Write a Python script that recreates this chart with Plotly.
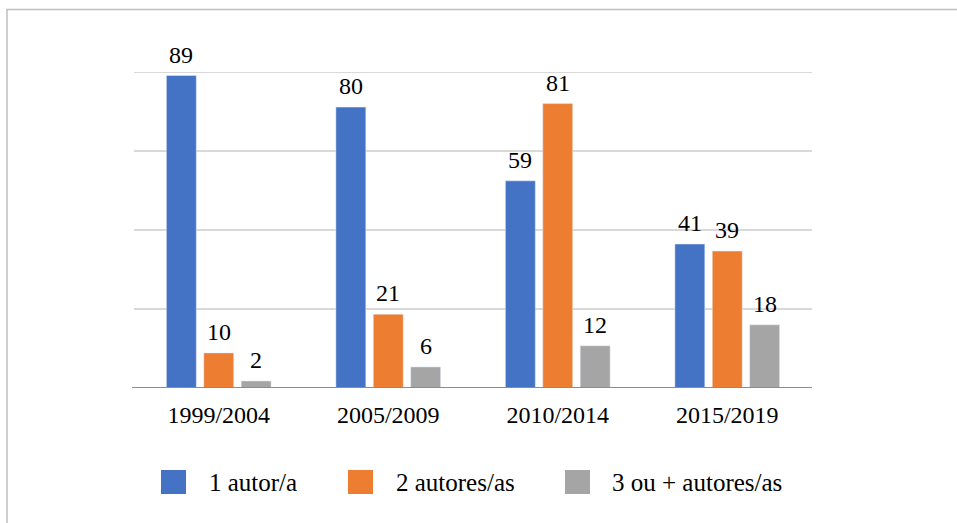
import plotly.graph_objects as go

categories = ["1999/2004", "2005/2009", "2010/2014", "2015/2019"]
series_names = ["1 autor/a", "2 autores/as", "3 ou + autores/as"]
autor1 = [89, 80, 59, 41]
autores2 = [10, 21, 81, 39]
autores3 = [2, 6, 12, 18]
colors = ["#4472C4", "#ED7D31", "#A5A5A5"]

FONT = "Liberation Serif"
W, H = 957, 523
L, R, T, B = 134, 145, 72, 135
pw, ph = W - L - R, H - T - B
BARGAP = 0.338

def px_x(x):
    return (x - L) / pw

def px_y(y):
    return (H - B - y) / ph

fig = go.Figure()
all_series = [autor1, autores2, autores3]
for name, vals, c in zip(series_names, all_series, colors):
    fig.add_trace(go.Bar(
        x=categories, y=vals, name=name, marker_color=c,
        cliponaxis=False, showlegend=False, hoverinfo="x+y+name",
    ))

annotations = []
slot = (1 - BARGAP) / len(all_series)
for i, vals in enumerate(all_series):
    off = (i - (len(all_series) - 1) / 2) * slot
    for j, v in enumerate(vals):
        annotations.append(dict(xref="x", yref="y", x=j + off, y=v, text=str(v),
                                showarrow=False, xanchor="center", yanchor="bottom",
                                yshift=6,
                                font=dict(family=FONT, size=24, color="#000000")))

shapes = [
    # outer border
    dict(type="rect", xref="paper", yref="paper",
         x0=px_x(7), x1=px_x(965), y0=px_y(535), y1=px_y(9.5),
         line=dict(color="#BFBFBF", width=1.5), fillcolor="rgba(0,0,0,0)", layer="below"),
    # top gridline
    dict(type="line", xref="paper", yref="y", x0=0, x1=1, y0=90, y1=90,
         line=dict(color="#D9D9D9", width=2), layer="below"),
    # baseline
    dict(type="line", xref="paper", yref="y", x0=px_x(132), x1=px_x(812), y0=0, y1=0,
         line=dict(color="#8C8C8C", width=2)),
]
legend_items = [(161, 207), (348, 394), (565, 610)]
for (sx, tx), name, c in zip(legend_items, series_names, colors):
    shapes.append(dict(type="rect", xref="paper", yref="paper",
                       x0=px_x(sx), x1=px_x(sx + 25), y0=px_y(494), y1=px_y(470),
                       fillcolor=c, line=dict(width=0)))
    annotations.append(dict(xref="paper", yref="paper", x=px_x(tx), y=px_y(482),
                            xanchor="left", yanchor="middle", text=name, showarrow=False,
                            font=dict(family=FONT, size=25, color="#000000")))

fig.update_layout(
    width=W, height=H,
    margin=dict(l=L, r=R, t=T, b=B),
    paper_bgcolor="white", plot_bgcolor="white",
    barmode="group", bargap=BARGAP, bargroupgap=0.2,
    shapes=shapes, annotations=annotations,
    xaxis=dict(showline=False, showgrid=False, ticks="outside", ticklen=5, tickcolor="white",
               tickfont=dict(family=FONT, size=24, color="#000000")),
    yaxis=dict(range=[0, 90], dtick=22.5, showticklabels=False, showgrid=True,
               gridcolor="#D9D9D9", gridwidth=2, zeroline=False, showline=False),
)

fig.write_html("out.html", config={"displayModeBar": False},
               post_script="document.body.style.margin='0';")
